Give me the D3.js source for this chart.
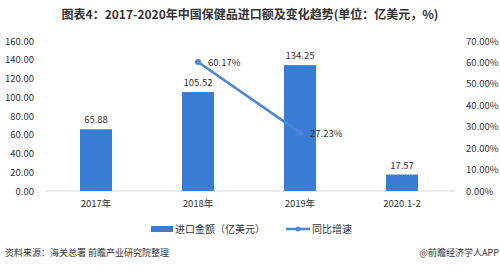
<!DOCTYPE html>
<html>
<head>
<meta charset="utf-8">
<script src="https://cdn.jsdelivr.net/npm/d3@7"></script>
<style>
body { margin: 0; background: #fff; }
text { font-family: "Noto Sans CJK SC", "Noto Sans", sans-serif; fill: #333; }
</style>
</head>
<body>
<div id="container"></div>
<script>
var width = 500, height = 267;

var categories = ["2017年", "2018年", "2019年", "2020.1-2"];
var amounts = [65.88, 105.52, 134.25, 17.57];
var growth = [null, 60.17, 27.23, null];
var leftTicks = [0, 20, 40, 60, 80, 100, 120, 140, 160];
var rightTicks = [0, 10, 20, 30, 40, 50, 60, 70];

var margin = {top: 41, left: 45, right: 47, bottom: 76};

var svg = d3.select("#container").append("svg")
    .attr("width", width)
    .attr("height", height);

// title
svg.append("text")
    .attr("x", 250).attr("y", 19)
    .attr("text-anchor", "middle")
    .style("font-size", "12px")
    .style("font-weight", "bold")
    .text("图表4：2017-2020年中国保健品进口额及变化趋势(单位：亿美元，%)");

var x = d3.scaleBand()
    .domain(categories)
    .range([margin.left, width - margin.right])
    .paddingInner(0.686)
    .paddingOuter(0.343);

var y = d3.scaleLinear().domain([0, 160]).range([height - margin.bottom, margin.top]);
var y2 = d3.scaleLinear().domain([0, 70]).range([height - margin.bottom, margin.top]);

// zero line
svg.append("line")
    .attr("x1", margin.left).attr("x2", width - margin.right + 2)
    .attr("y1", y(0)).attr("y2", y(0))
    .attr("stroke", "#d9d9d9");

var leftAxis = svg.append("g")
    .attr("transform", "translate(" + (margin.left - 8) + ",0)")
    .call(d3.axisLeft(y).tickValues(leftTicks).tickFormat(d3.format(".2f")).tickSize(0));
leftAxis.select(".domain").remove();
leftAxis.selectAll("text").style("font-size", "9.5px");

var rightAxis = svg.append("g")
    .attr("transform", "translate(" + (width - margin.right + 10) + ",0)")
    .call(d3.axisRight(y2).tickValues(rightTicks).tickFormat(function(d) { return d3.format(".2f")(d) + "%"; }).tickSize(0));
rightAxis.select(".domain").remove();
rightAxis.selectAll("text").style("font-size", "9.5px");

var bottomAxis = svg.append("g")
    .attr("transform", "translate(0," + (y(0) + 6) + ")")
    .call(d3.axisBottom(x).tickSize(0));
bottomAxis.select(".domain").remove();
bottomAxis.selectAll("text").style("font-size", "9.5px");

// bars
svg.selectAll(".bar")
    .data(amounts)
  .enter().append("rect")
    .attr("class", "bar")
    .attr("x", function(d, i) { return x(categories[i]); })
    .attr("y", function(d) { return y(d); })
    .attr("width", x.bandwidth())
    .attr("height", function(d) { return y(0) - y(d); })
    .attr("fill", "#3a7bd5");

svg.selectAll(".barlabel")
    .data(amounts)
  .enter().append("text")
    .attr("class", "barlabel")
    .attr("x", function(d, i) { return x(categories[i]) + x.bandwidth() / 2; })
    .attr("y", function(d) { return y(d) - 6; })
    .attr("text-anchor", "middle")
    .style("font-size", "9.5px")
    .text(function(d) { return d3.format(".2f")(d); });

// growth line
var pts = growth.map(function(d, i) { return {v: d, c: categories[i]}; })
    .filter(function(d) { return d.v !== null; });

var line = d3.line()
    .x(function(d) { return x(d.c) + x.bandwidth() / 2; })
    .y(function(d) { return y2(d.v); });

svg.append("path")
    .datum(pts)
    .attr("d", line)
    .attr("fill", "none")
    .attr("stroke", "#4a86d8")
    .attr("stroke-width", 2.5);

svg.selectAll(".dot")
    .data(pts)
  .enter().append("circle")
    .attr("cx", function(d) { return x(d.c) + x.bandwidth() / 2; })
    .attr("cy", function(d) { return y2(d.v); })
    .attr("r", 3)
    .attr("fill", "#4a86d8");

svg.selectAll(".linelabel")
    .data(pts)
  .enter().append("text")
    .attr("x", function(d) { return x(d.c) + x.bandwidth() / 2 + 10; })
    .attr("y", function(d) { return y2(d.v) + 4; })
    .style("font-size", "9.5px")
    .text(function(d) { return d3.format(".2f")(d.v) + "%"; });

// legend
var ly = 229;
svg.append("rect")
    .attr("x", 151).attr("y", ly - 3).attr("width", 22).attr("height", 6)
    .attr("fill", "#3a7bd5");
svg.append("text")
    .attr("x", 175).attr("y", ly + 4)
    .style("font-size", "10px")
    .text("进口金额（亿美元）");
svg.append("line")
    .attr("x1", 286).attr("x2", 310).attr("y1", ly).attr("y2", ly)
    .attr("stroke", "#4a86d8").attr("stroke-width", 2.5);
svg.append("circle")
    .attr("cx", 298).attr("cy", ly).attr("r", 2.5)
    .attr("fill", "#4a86d8");
svg.append("text")
    .attr("x", 312).attr("y", ly + 4)
    .style("font-size", "10px")
    .text("同比增速");

// footer
svg.append("text")
    .attr("x", 5).attr("y", 256)
    .style("font-size", "9px")
    .text("资料来源：海关总署 前瞻产业研究院整理");
svg.append("text")
    .attr("x", 499).attr("y", 256)
    .attr("text-anchor", "end")
    .style("font-size", "9px")
    .text("@前瞻经济学人APP");
</script>
</body>
</html>
